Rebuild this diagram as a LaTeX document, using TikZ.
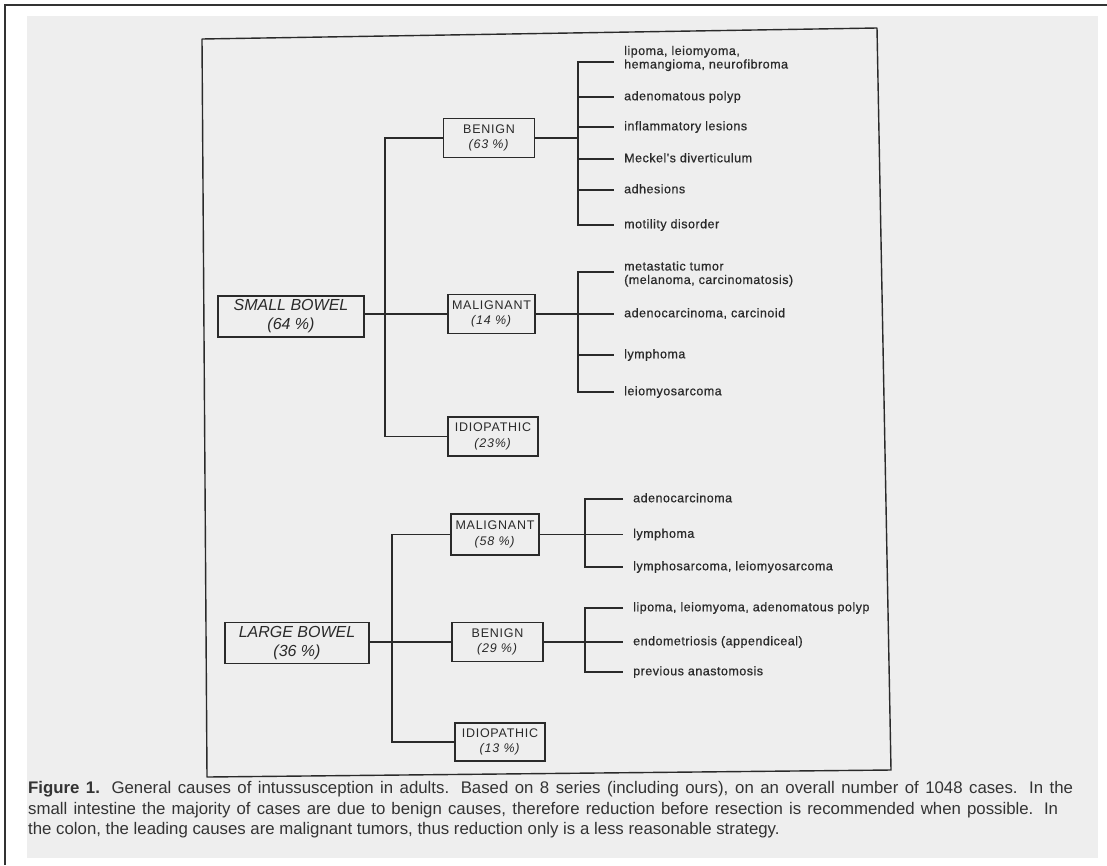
\documentclass[tikz,border=0pt]{standalone}
\usepackage{fontspec}
\setmainfont{Liberation Sans}
\newfontfamily\itemfont{Liberation Sans}[FakeBold=0.6,LetterSpace=4]
\newfontfamily\boxfont{Liberation Sans}[LetterSpace=6]
\usetikzlibrary{calc}
\definecolor{ink}{HTML}{2A2A2A}
\definecolor{paper}{HTML}{EEEEEE}
\definecolor{captxt}{HTML}{333333}
\begin{document}
\begin{tikzpicture}[x=1pt,y=-1pt,
  frame/.style={draw=ink,line width=1.4pt,line join=round},
  conn/.style={draw=ink,line width=1.1pt},
  boxA/.style={draw=ink,line width=1.3pt,align=center,inner sep=0pt,text=ink,
     font=\boxfont\fontsize{12.5}{15.5}\selectfont},
  boxB/.style={draw=ink,line width=1.3pt,align=center,inner sep=0pt,text=ink,
     font=\fontsize{16}{19}\selectfont\itshape},
  item/.style={anchor=west,inner sep=0pt,text=ink,text height=9pt,text depth=2.5pt,
     font=\itemfont\fontsize{12.5}{13}\selectfont},
  itemtwo/.style={anchor=west,inner sep=0pt,text=ink,align=left,
     font=\itemfont\fontsize{12.5}{13.5}\selectfont},
  captionline/.style={anchor=west,inner sep=0pt,text=captxt,
     text height=12.5pt,text depth=3.5pt,
     font=\fontsize{16.8}{19}\selectfont}]
\useasboundingbox (0,0) rectangle (1107,865);
\fill[white] (0,0) rectangle (1107,865);
\fill[paper] (27,16) rectangle (1098,858);
\draw[line width=2.5pt,black!80] (5,865) -- (5,5) -- (1107,5);
% inner frame (scanned, slightly skewed)
\draw[frame] (202,39) -- (877,28) -- (891,770) -- (207,777) -- cycle;

% ---------- small bowel ----------
\node[boxB,minimum width=146,minimum height=41] (sb) at (291,316.5) {SMALL BOWEL\\(64 \%)};
\node[boxA,minimum width=91,minimum height=39] (sben) at (489,138) {BENIGN\\\textit{(63 \%)}};
\node[boxA,minimum width=87,minimum height=39] (smal) at (491.5,314) {MALIGNANT\\\textit{(14 \%)}};
\node[boxA,minimum width=90,minimum height=39] (sidi) at (493,436.5) {IDIOPATHIC\\\textit{(23\%)}};
\coordinate (st) at (385,0);
\draw[conn] (sb.east |- smal.west) -- (smal.west);
\draw[conn] (sben.west) -| (st |- sidi.west) -- (sidi.west);

% benign items
\coordinate (bv) at (578,0);
\node[itemtwo] (b1) at (624,58.5) {lipoma, leiomyoma,\\hemangioma, neurofibroma};
\node[item] (b2) at (624,97) {adenomatous polyp};
\node[item] (b3) at (624,127) {inflammatory lesions};
\node[item] (b4) at (624,159) {Meckel's diverticulum};
\node[item] (b5) at (624,190) {adhesions};
\node[item] (b6) at (624,225) {motility disorder};
\draw[conn] ([xshift=-10pt,yshift=-3.5pt]b1.west) -| (bv |- b6.west) -- ([xshift=-10pt]b6.west);
\foreach \n in {b2,b3,b4,b5} \draw[conn] (bv |- \n.west) -- ([xshift=-10pt]\n.west);
\draw[conn] (sben.east) -- (bv |- sben.east);

% malignant items
\node[itemtwo] (m1) at (624,274) {metastatic tumor\\(melanoma, carcinomatosis)};
\node[item] (m2) at (624,314) {adenocarcinoma, carcinoid};
\node[item] (m3) at (624,355) {lymphoma};
\node[item] (m4) at (624,392) {leiomyosarcoma};
\draw[conn] ([xshift=-10pt,yshift=2pt]m1.west) -| (bv |- m4.west) -- ([xshift=-10pt]m4.west);
\foreach \n in {m2,m3} \draw[conn] (bv |- \n.west) -- ([xshift=-10pt]\n.west);
\draw[conn] (smal.east) -- (bv |- smal.east);

% ---------- large bowel ----------
\node[boxB,minimum width=144,minimum height=41] (lb) at (297,643) {LARGE BOWEL\\(36 \%)};
\node[boxA,minimum width=88,minimum height=41] (lmal) at (495,534.5) {MALIGNANT\\\textit{(58 \%)}};
\node[boxA,minimum width=91,minimum height=39] (lben) at (497.5,642) {BENIGN\\\textit{(29 \%)}};
\node[boxA,minimum width=90,minimum height=38] (lidi) at (500,742) {IDIOPATHIC\\\textit{(13 \%)}};
\coordinate (lt) at (392,0);
\draw[conn] (lb.east |- lben.west) -- (lben.west);
\draw[conn] (lmal.west) -| (lt |- lidi.west) -- (lidi.west);

\coordinate (lv) at (585,0);
\node[item] (n1) at (633,499) {adenocarcinoma};
\node[item] (n2) at (633,534.5) {lymphoma};
\node[item] (n3) at (633,567) {lymphosarcoma, leiomyosarcoma};
\draw[conn] ([xshift=-10pt]n1.west) -| (lv |- n3.west) -- ([xshift=-10pt]n3.west);
\draw[conn] (lv |- n2.west) -- ([xshift=-10pt]n2.west);
\draw[conn] (lmal.east) -- (lv |- lmal.east);

\node[item] (p1) at (633,608) {lipoma, leiomyoma, adenomatous polyp};
\node[item] (p2) at (633,642) {endometriosis (appendiceal)};
\node[item] (p3) at (633,672) {previous anastomosis};
\draw[conn] ([xshift=-10pt]p1.west) -| (lv |- p3.west) -- ([xshift=-10pt]p3.west);
\draw[conn] (lv |- p2.west) -- ([xshift=-10pt]p2.west);
\draw[conn] (lben.east) -- (lv |- lben.east);

% ---------- caption ----------
\node[captionline] (c1) at (28,789) {\makebox[1045pt][s]{\textbf{Figure 1.} General causes of intussusception in adults. Based on 8 series (including ours), on an overall number of 1048 cases. In the}};
\node[captionline] (c2) at (28,809.5) {\makebox[1030pt][s]{small intestine the majority of cases are due to benign causes, therefore reduction before resection is recommended when possible. In}};
\node[captionline] (c3) at (28,830) {the colon, the leading causes are malignant tumors, thus reduction only is a less reasonable strategy.};
\end{tikzpicture}
\end{document}
